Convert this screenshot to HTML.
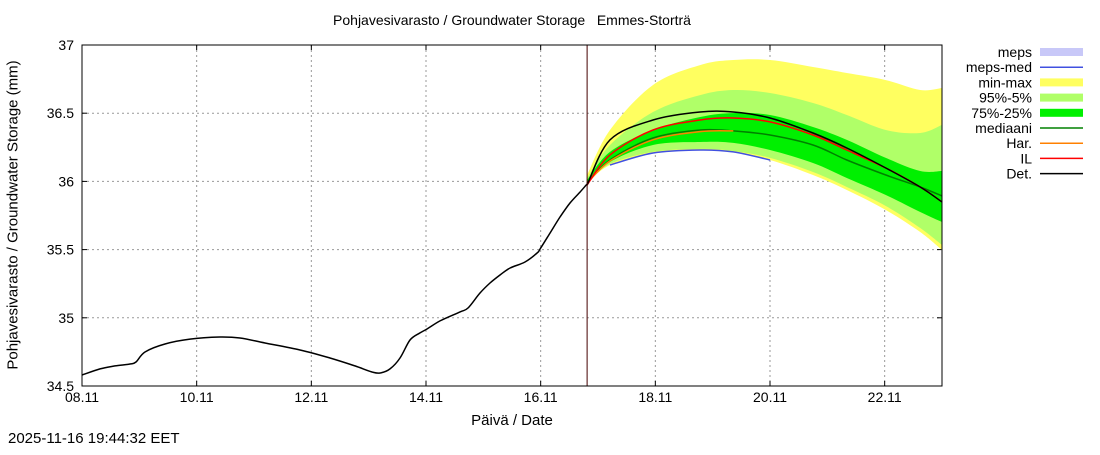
<!DOCTYPE html>
<html><head><meta charset="utf-8"><style>
body{margin:0;background:#fff;width:1100px;height:450px;overflow:hidden}
svg{font-family:"Liberation Sans",sans-serif}
</style></head><body>
<svg id="c" width="1100" height="450"></svg>
<script>
const histDays=[0,0.314,0.576,0.837,0.942,1.099,1.448,1.884,2.407,2.756,3.192,3.803,4.326,4.762,5.058,5.198,5.372,5.547,5.721,5.896,6.018,6.245,6.593,6.733,6.942,7.117,7.291,7.466,7.727,7.937,7.989,8.163,8.338,8.512,8.687,8.81];
const histVals=[34.581,34.625,34.647,34.661,34.676,34.749,34.808,34.844,34.859,34.852,34.815,34.764,34.705,34.647,34.603,34.595,34.625,34.705,34.837,34.889,34.918,34.977,35.043,35.072,35.182,35.255,35.314,35.365,35.409,35.475,35.504,35.621,35.739,35.842,35.922,35.981];
const fcDays=[8.81,9.21,9.96,10.78,11.36,12.0,12.75,13.34,14.02,14.62,15.0];
const maxVals=[36.047,36.377,36.707,36.853,36.890,36.890,36.839,36.795,36.743,36.670,36.685];
const minVals=[35.988,36.120,36.208,36.230,36.216,36.157,36.047,35.937,35.790,35.629,35.497];
const p95Vals=[36.025,36.267,36.509,36.633,36.670,36.648,36.575,36.487,36.377,36.355,36.414];
const p05Vals=[35.988,36.128,36.216,36.238,36.223,36.172,36.069,35.959,35.820,35.658,35.534];
const p75Vals=[36.010,36.216,36.377,36.472,36.501,36.487,36.399,36.304,36.172,36.076,36.076];
const p25Vals=[35.988,36.142,36.267,36.289,36.282,36.230,36.135,36.025,35.900,35.776,35.702];
const medVals=[35.988,36.157,36.318,36.377,36.370,36.340,36.267,36.157,36.047,35.959,35.893];
const harVals=[35.985,36.150,36.305,36.365,36.370];
const ilVals=[35.974,36.194,36.377,36.450,36.465,36.436,36.340,36.230,36.098,35.959,35.849];
const detVals=[35.974,36.304,36.450,36.509,36.509,36.465,36.355,36.245,36.098,35.959,35.849];
const mepsVals=[36.120,36.208,36.230,36.216,36.157];
const xTicks=['08.11','10.11','12.11','14.11','16.11','18.11','20.11','22.11'];
const yTicks=[34.5,35,35.5,36,36.5,37];
const nowDay=8.81;

const L=82,R=942,T=45,B=386;
const X=d=>L+d*(R-L)/15;
const Y=v=>B-(v-34.5)*(B-T)/2.5;
const svg=document.getElementById('c');
const NS='http://www.w3.org/2000/svg';
function mk(t,a,p){const e=document.createElementNS(NS,t);for(const k in a)e.setAttribute(k,a[k]);(p||svg).appendChild(e);return e;}
function smooth(ds,vs,start){
  const P=vs.map((v,i)=>[X(ds[i]),Y(v)]);
  let d=(start?'M':'L')+P[0][0].toFixed(1)+','+P[0][1].toFixed(1);
  for(let i=0;i<P.length-1;i++){
    const p0=P[i-1]||P[i],p1=P[i],p2=P[i+1],p3=P[i+2]||P[i+1];
    const c1=[p1[0]+(p2[0]-p0[0])/6,p1[1]+(p2[1]-p0[1])/6];
    const c2=[p2[0]-(p3[0]-p1[0])/6,p2[1]-(p3[1]-p1[1])/6];
    d+=' C'+c1.map(n=>n.toFixed(1)).join(',')+' '+c2.map(n=>n.toFixed(1)).join(',')+' '+p2[0].toFixed(1)+','+p2[1].toFixed(1);
  }
  return d;
}
function band(top,bot,col,name){
  const d=smooth(fcDays,top,true)+' '+smooth(fcDays.slice().reverse(),bot.slice().reverse(),false)+' Z';
  const e=mk('path',{d:d,fill:col,stroke:'none'});
  
  
}
function line(ds,vs,col,name,w){
  const e=mk('path',{d:smooth(ds,vs,true),fill:'none',stroke:col,'stroke-width':w||1.5,'stroke-linejoin':'round'});
  
  
}
for(let i=0;i<xTicks.length;i++){
  const x=X(i*2);
  if(i>0){const g=mk('line',{x1:x,x2:x,y1:T,y2:B,stroke:'#999','stroke-dasharray':'2,3'});}
  const t=mk('text',{x:x,y:402,'font-size':14,'text-anchor':'middle',fill:'#000'});t.textContent=xTicks[i];
  
  
  mk('line',{x1:x,x2:x,y1:B,y2:B-5,stroke:'#000'});
  mk('line',{x1:x,x2:x,y1:T,y2:T+5,stroke:'#000'});
}
yTicks.forEach(v=>{
  const y=Y(v);
  if(v>34.5&&v<37){const g=mk('line',{x1:L,x2:R,y1:y,y2:y,stroke:'#999','stroke-dasharray':'2,3'});}
  const t=mk('text',{x:74,y:y+5,'font-size':14,'text-anchor':'end',fill:'#000'});t.textContent=v;
  
  
  mk('line',{x1:L,x2:L+5,y1:y,y2:y,stroke:'#000'});
  mk('line',{x1:R,x2:R-5,y1:y,y2:y,stroke:'#000'});
});
band(maxVals,minVals,'#ffff60','min-max-band');
band(p95Vals,p05Vals,'#b0ff68','p95-p05-band');
band(p75Vals,p25Vals,'#00f000','p75-p25-band');
line(fcDays.slice(1,6),mepsVals,'#4050e0','meps-med-line',1.5);
line(fcDays,medVals,'#008000','median-line',1.5);
line(fcDays.slice(0,5),harVals,'#ff8000','har-line',1.5);
line(fcDays,ilVals,'#ff0000','il-line',1.5);
line(histDays,histVals,'#000','history-line',1.5);
line(fcDays,detVals,'#000','det-line',1.5);
const nl=mk('line',{x1:X(nowDay),x2:X(nowDay),y1:T,y2:B,stroke:'#400',"stroke-width":1});


const fr=mk('rect',{x:L,y:T,width:R-L,height:B-T,fill:'none',stroke:'#000'});


const leg=[['meps','box','#c8c8f8'],['meps-med','line','#4050e0'],['min-max','box','#ffff60'],['95%-5%','box','#b0ff68'],['75%-25%','box','#00f000'],['mediaani','line','#008000'],['Har.','line','#ff8000'],['IL','line','#ff0000'],['Det.','line','#000']];
leg.forEach((l,i)=>{
  const y=52+i*15.2;
  const g=mk('g',{});
  
  
  const t=mk('text',{x:1032,y:y+5,'font-size':14,'text-anchor':'end'},g);t.textContent=l[0];
  if(l[1]=='box')mk('rect',{x:1040,y:y-4,width:43,height:8,fill:l[2]},g);
  else mk('line',{x1:1040,x2:1083,y1:y,y2:y,stroke:l[2],'stroke-width':1.5},g);
});
</script>
<div style="position:absolute;left:0;top:0;width:1100px;height:450px;font-family:'Liberation Sans',sans-serif;pointer-events:none">
<div style="position:absolute;top:12px;left:0;width:1024px;text-align:center;font-size:14px">Pohjavesivarasto / Groundwater Storage&nbsp;&nbsp;&nbsp;Emmes-Storträ</div>
<div style="position:absolute;top:412px;left:0;width:1024px;text-align:center;font-size:15px">Päivä / Date</div>
<div style="position:absolute;top:430px;left:8px;font-size:15px">2025-11-16 19:44:32 EET</div>
<div style="position:absolute;left:13px;top:215px;transform:translate(-50%,-50%) rotate(-90deg);white-space:nowrap;font-size:15px">Pohjavesivarasto / Groundwater Storage (mm)</div>
</div>
</body></html>
